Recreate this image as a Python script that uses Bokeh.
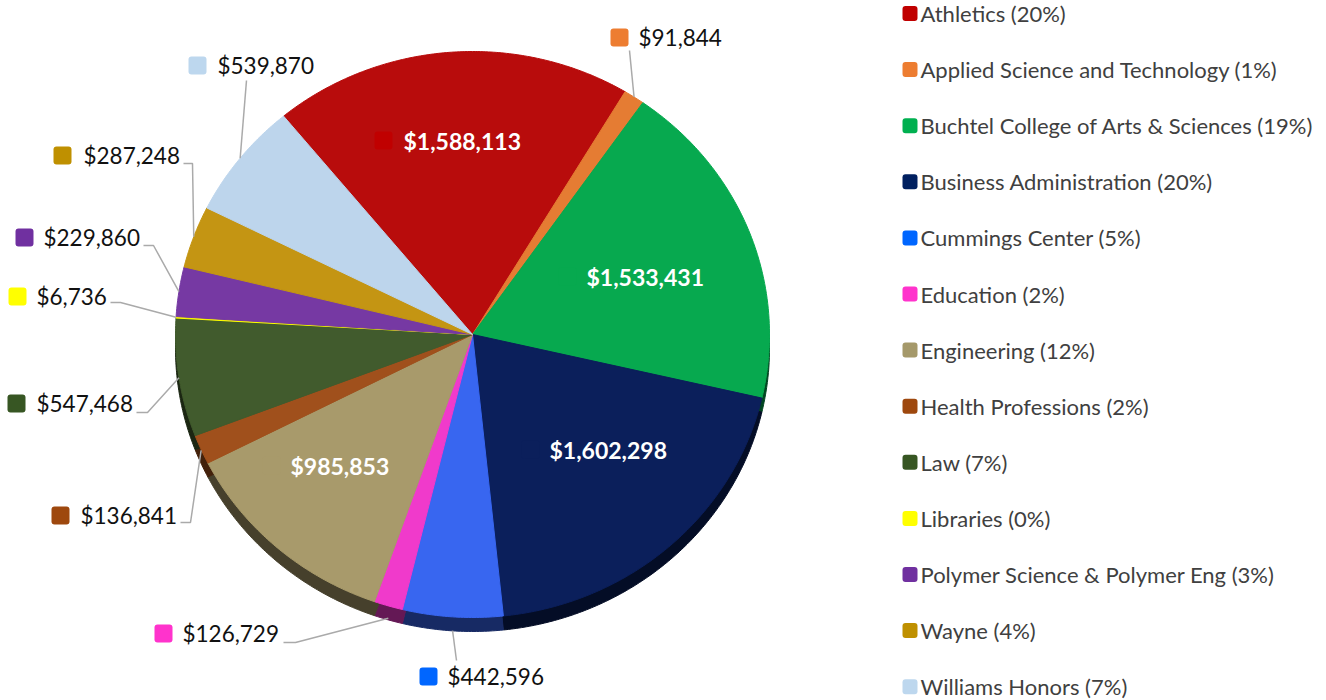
import numpy as np
from bokeh.plotting import figure
from bokeh.models import Range1d
from bokeh.core.properties import value
from bokeh.embed import file_html
from bokeh.resources import INLINE

# ---------------- data ----------------
categories = ["Athletics", "Applied Science and Technology",
              "Buchtel College of Arts & Sciences", "Business Administration",
              "Cummings Center", "Education", "Engineering", "Health Professions",
              "Law", "Libraries", "Polymer Science & Polymer Eng", "Wayne",
              "Williams Honors"]
amounts = [1588113, 91844, 1533431, 1602298, 442596, 126729, 985853,
           136841, 547468, 6736, 229860, 287248, 539870]

# ---------------- styles ----------------
slice_colors = ["#b80c0c", "#e57c33", "#07a94f", "#0b1f5b", "#3866f0", "#f03acb",
                "#a89a6b", "#a0501c", "#415b2d", "#ffff00", "#7639a3", "#c49513",
                "#bdd5ec"]
legend_colors = ["#c00000", "#ed7d31", "#00b050", "#002060", "#0066ff", "#ff33cc",
                 "#a5996a", "#9e480e", "#375623", "#ffff00", "#7030a0", "#bf9000",
                 "#bdd7ee"]
# colour of the small marker next to each value label
label_square_colors = ["#c00000", "#ed7d31", "#07a94f", "#0b1f5b", "#0066ff", "#ff33cc",
                       "#a89a6b", "#9e480e", "#375623", "#ffff00", "#7030a0", "#bf9000",
                       "#bdd7ee"]

# label layout: (mode, square_x, text_x, y, leader_start, leader_elbow)
label_layout = [
    ("in", 383, 403, 140, None, None),
    ("out", 619, 638, 37, (629, 50), None),
    ("in", 567, 586, 276, None, None),
    ("in", 530, 549, 449, None, None),
    ("out", 428, 447, 676, (456, 660), None),
    ("out", 163, 182, 633, (283, 642), (295, 642)),
    ("in", 271, 290, 465, None, None),
    ("out", 60, 80, 515, (180, 522), (190, 522)),
    ("out", 16, 36, 403, (136, 412), (147, 412)),
    ("out", 17, 36, 296, (110, 302), (120, 302)),
    ("out", 24, 43, 237, (143, 245), (153, 245)),
    ("out", 62, 83, 155, (183, 163), (192, 163)),
    ("out", 197, 217, 65, (246, 80), None),
]

W, H = 1326, 700
CX, CY, RX, RY, DEPTH = 472, 334, 297, 283, 14
START_DEG = -39.5
FONT = value("Lato")


def darken(hexc, f=0.42):
    h = hexc.lstrip("#")
    r, g, b = (int(h[i:i + 2], 16) for i in (0, 2, 4))
    return "#%02x%02x%02x" % (int(r * f), int(g * f), int(b * f))


total = float(sum(amounts))
frac = np.array(amounts) / total
cum = np.concatenate([[0.0], np.cumsum(frac)])
a0 = np.radians(START_DEG + 360 * cum[:-1])
a1 = np.radians(START_DEG + 360 * cum[1:])
amid = (a0 + a1) / 2


def ell(phi):
    return CX + RX * np.sin(phi), CY - RY * np.cos(phi)


xs, ys, dys = [], [], []
for s, e in zip(a0, a1):
    n = max(4, int(np.degrees(e - s) * 2))
    t = np.linspace(s, e, n)
    ex, ey = ell(t)
    px = np.concatenate([[CX], ex])
    py = np.concatenate([[CY], ey])
    xs.append(px.tolist())
    ys.append(py.tolist())
    dys.append((py + DEPTH).tolist())

p = figure(width=W, height=H, x_range=Range1d(0, W), y_range=Range1d(H, 0),
           output_backend="svg", toolbar_location=None, min_border=0,
           x_axis_type=None, y_axis_type=None)
p.grid.visible = False
p.outline_line_color = None
p.background_fill_color = "white"
p.border_fill_color = "white"

# depth (3D side)
p.patches(xs=xs, ys=dys, fill_color=[darken(c) for c in slice_colors],
          line_color=[darken(c) for c in slice_colors], line_width=1)
# top face
p.patches(xs=xs, ys=ys, fill_color=slice_colors, line_color=slice_colors, line_width=1)

# leader lines
lx, ly = [], []
for i, (mode, sqx, tx, y, st, el) in enumerate(label_layout):
    if mode != "out":
        continue
    ex, ey = ell(amid[i])
    ey = ey + DEPTH * max(0.0, -np.cos(amid[i])) ** 3
    px = [st[0]] + ([el[0]] if el else []) + [float(ex)]
    py = [st[1]] + ([el[1]] if el else []) + [float(ey)]
    lx.append(px)
    ly.append(py)
p.multi_line(xs=lx, ys=ly, line_color="#aaaaaa", line_width=1.5)


def squares(xc, yc, size, colors):
    left = [x - size / 2 for x in xc]
    right = [x + size / 2 for x in xc]
    top = [y - size / 2 for y in yc]
    bottom = [y + size / 2 for y in yc]
    try:
        p.quad(left=left, right=right, top=top, bottom=bottom, fill_color=colors,
               line_color=None, border_radius=3)
    except Exception:
        p.quad(left=left, right=right, top=top, bottom=bottom, fill_color=colors,
               line_color=None)


out_idx = [i for i, l in enumerate(label_layout) if l[0] == "out"]
in_idx = [i for i, l in enumerate(label_layout) if l[0] == "in"]
squares([label_layout[i][1] for i in range(len(categories))],
        [label_layout[i][3] for i in range(len(categories))], 18, label_square_colors)

vals = ["${:,}".format(a) for a in amounts]
p.text(x=[label_layout[i][2] for i in out_idx], y=[label_layout[i][3] for i in out_idx],
       text=[vals[i] for i in out_idx], text_font=FONT, text_font_size="22.5px",
       text_color="#111111", text_align="left", text_baseline="middle")
p.text(x=[label_layout[i][2] for i in in_idx], y=[label_layout[i][3] for i in in_idx],
       text=[vals[i] for i in in_idx], text_font=FONT, text_font_size="23px",
       text_font_style="bold", text_color="white", text_align="left",
       text_baseline="middle")

# legend
LEG_SQ_X, LEG_TX, LEG_Y0, LEG_DY = 909.5, 920, 13, 56.1
leg_y = [LEG_Y0 + LEG_DY * i for i in range(len(categories))]
squares([LEG_SQ_X] * len(categories), leg_y, 15, legend_colors)
leg_text = ["%s (%d%%)" % (c, int(round(f * 100))) for c, f in zip(categories, frac)]
p.text(x=[LEG_TX] * len(categories), y=leg_y, text=leg_text, text_font=FONT,
       text_font_size="22px", text_color="#404040", text_align="left",
       text_baseline="middle")

open("out.html", "w").write(file_html(p, INLINE))
